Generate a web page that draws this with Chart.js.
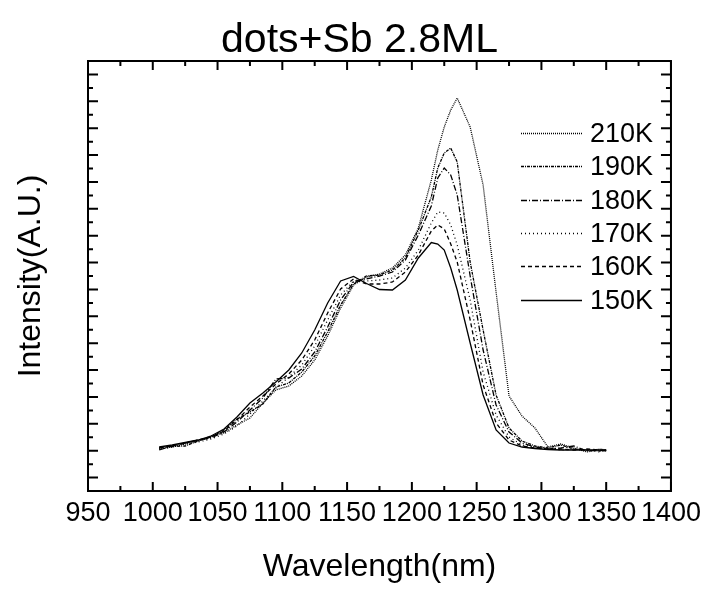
<!DOCTYPE html>
<html>
<head>
<meta charset="utf-8">
<script src="https://cdn.jsdelivr.net/npm/chart.js@4.4.1/dist/chart.umd.min.js"></script>
<style>
html,body{margin:0;padding:0;background:#fff;}
#wrap{width:707px;height:597px;}
</style>
</head>
<body>
<div id="wrap"><canvas id="c" width="707" height="597"></canvas></div>
<script>
// ---- data ----
const chartTitle = "dots+Sb 2.8ML";
const xTitle = "Wavelength(nm)";
const yTitle = "Intensity(A.U.)";
const seriesLabels = ["210K", "190K", "180K", "170K", "160K", "150K"];
const wavelengths = [1005,1015,1025,1035,1045,1055,1065,1075,1085,1095,1105,1115,1125,1135,1145,1155,1165,1175,1185,1195,1205,1215,1220,1225,1230,1235,1245,1255,1265,1275,1285,1295,1305,1315,1325,1335,1345,1350];
const i210 = [42,44,47,50,55,58,66,73,88,101,105,115,131,155,183,206,214,217,223,236,263,311,341,364,381,393,364,306,199,95,75,63,44,47,43,39,42,41];
const i190 = [43.5,44.5,45,50,54,61,72,79,87,104,108,119,135,159,186,207,215,216,221,233,261,294,323,338,343,329,229,161,96,63,50,45,43,46,42,41,40,41];
const i180 = [41,45,48,51,53,59,69,81,93,112,113,122,139,164,191,209,212,215,219,231,256,285,313,323,316,296,215,141,86,59,48,44,42,43,45,40,41,40];
const i170 = [42,44,47,49,52,57,65,77,90,103,114,126,145,171,196,210,210,211,213,223,241,268,279,278,266,246,191,119,76,54,46,44,43,41,42,41,39,41];
const i160 = [43,45,48,51,54,60,71,84,95,107,117,131,151,178,202,212,207,207,209,219,236,260,266,262,247,229,171,106,68,51,45,43,42,42,41,42,41,40];
const i150 = [44,46,48.5,51,55,62,74,88,98,109,121,138,161,188,210,214.5,207.5,201.5,201,211,233,248.5,247,241,223,201,148,96,61,48,44,42.5,41.5,41,41,41,41,41];
const xMin = 950, xMax = 1400, xStep = 50;
const yMin = 0, yMax = 430;

// ---- styles ----
const FONT = "'Liberation Sans', Arial, Helvetica, sans-serif";
const dashes = [[1,1],[3,1,1,1],[6,2,1,2],[1,3],[4,3],[]];
const seriesValues = [i210, i190, i180, i170, i160, i150];

function pts(vals){ return wavelengths.map((w,i)=>({x:w,y:vals[i]})); }

const datasets = seriesLabels.map((lab, k) => ({
  label: lab,
  data: pts(seriesValues[k]),
  borderColor: '#000',
  borderWidth: 1.3,
  borderDash: dashes[k],
  pointRadius: 0,
  tension: 0,
  fill: false
}));

const framePlugin = {
  id: 'frame',
  afterDraw(chart){
    const {ctx, chartArea:a, scales:{x, y}} = chart;
    ctx.save();
    // title
    ctx.fillStyle = '#000';
    ctx.font = "41px " + FONT;
    ctx.textAlign = 'center';
    ctx.textBaseline = 'alphabetic';
    ctx.fillText(chartTitle, 359.5, 52);

    ctx.strokeStyle = '#000';
    ctx.lineWidth = 2;
    ctx.strokeRect(a.left, a.top, a.right - a.left, a.bottom - a.top);
    ctx.beginPath();
    // x ticks (major every 50, minor at 25)
    for (let v = xMin; v <= xMax + 0.001; v += xStep/2) {
      const px = x.getPixelForValue(v);
      const major = Math.abs(((v - xMin) / xStep) - Math.round((v - xMin) / xStep)) < 1e-6;
      const len = major ? 9 : 5;
      ctx.moveTo(px, a.bottom); ctx.lineTo(px, a.bottom - len);
      ctx.moveTo(px, a.top); ctx.lineTo(px, a.top + len);
    }
    // y ticks (32 divisions, long on odd)
    const nDiv = 32;
    for (let k = 1; k < nDiv; k++) {
      const v = yMin + (yMax - yMin) * k / nDiv;
      const py = y.getPixelForValue(v);
      const len = (k % 2 === 1) ? 10 : 5;
      ctx.moveTo(a.left, py); ctx.lineTo(a.left + len, py);
      ctx.moveTo(a.right, py); ctx.lineTo(a.right - len, py);
    }
    ctx.stroke();

    // legend
    const lx0 = 521, lx1 = 582, tx = 590, ty0 = 133, dy = 33.3;
    ctx.font = "27px " + FONT;
    ctx.textBaseline = 'middle';
    ctx.textAlign = 'left';
    chart.data.datasets.forEach((ds, k) => {
      const yy = Math.round(ty0 + k * dy) + 0.5;
      ctx.beginPath();
      ctx.lineWidth = ds.borderWidth;
      ctx.setLineDash(ds.borderDash || []);
      ctx.moveTo(lx0, yy); ctx.lineTo(lx1, yy);
      ctx.stroke();
      ctx.setLineDash([]);
      ctx.fillText(ds.label, tx, yy + 1);
    });
    ctx.restore();
  }
};

new Chart(document.getElementById('c'), {
  type: 'line',
  data: { datasets },
  options: {
    responsive: false,
    animation: false,
    devicePixelRatio: 1,
    layout: { padding: { left: 0, right: 35, top: 61, bottom: 0 } },
    plugins: {
      legend: { display: false },
      tooltip: { enabled: false },
      title: { display: false }
    },
    scales: {
      x: {
        type: 'linear',
        min: xMin, max: xMax,
        afterFit(s){ s.height = 106; },
        afterBuildTicks(s){ s.ticks = []; for (let v = xMin; v <= xMax; v += xStep) s.ticks.push({value: v}); },
        ticks: { stepSize: xStep, color: '#000', font: { family: FONT, size: 27 }, padding: 6, maxRotation: 0, autoSkip: false,
                 callback: (v) => String(v) },
        grid: { display: false, drawTicks: false },
        border: { display: false },
        title: { display: true, text: xTitle, color: '#000', font: { family: FONT, size: 32 }, padding: { top: 0, bottom: 11 } }
      },
      y: {
        type: 'linear',
        min: yMin, max: yMax,
        afterFit(s){ s.width = 88; },
        ticks: { display: false },
        grid: { display: false, drawTicks: false },
        border: { display: false },
        title: { display: true, text: yTitle, color: '#000', font: { family: FONT, size: 32 }, padding: { top: 12, bottom: 0 } }
      }
    }
  },
  plugins: [framePlugin]
});
</script>
</body>
</html>
